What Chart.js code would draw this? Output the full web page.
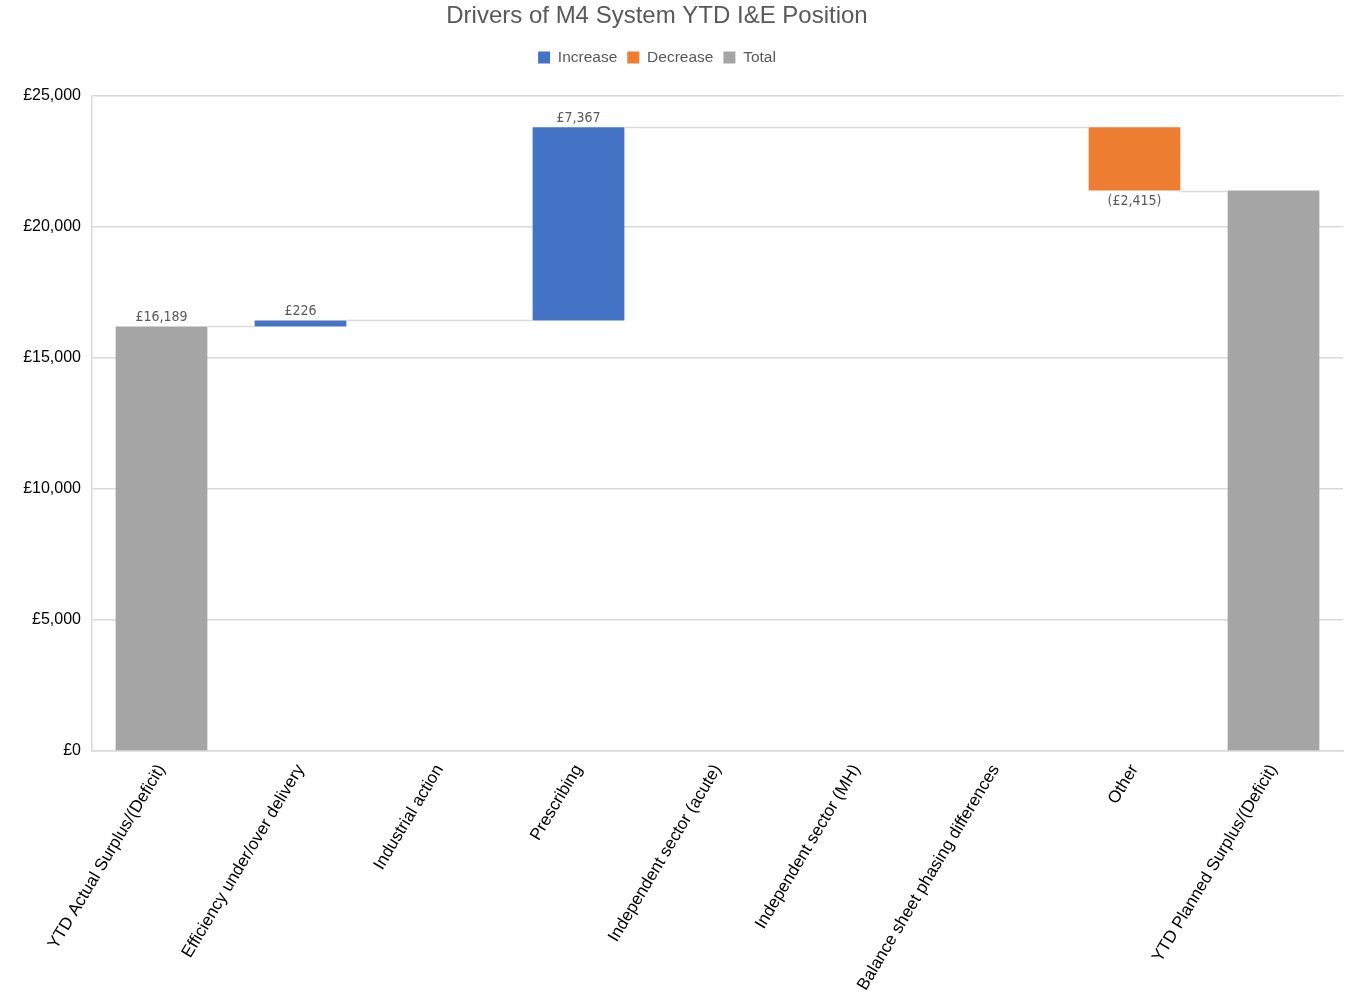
<!DOCTYPE html>
<html>
<head>
<meta charset="utf-8">
<title>Drivers of M4 System YTD I&amp;E Position</title>
<script src="https://cdn.jsdelivr.net/npm/chart.js@4.4.1/dist/chart.umd.min.js"></script>
<style>
  html, body { margin: 0; padding: 0; background: #fff; overflow: hidden; }
  /* canvas runs a little past the left edge so the title sits left of centre */
  #wrap { width: 1375px; height: 1000px; margin-left: -30px; }
</style>
</head>
<body>
<div id="wrap"><canvas id="ieChart"></canvas></div>
<script>
// Waterfall data (£000s)
const categories = [
  'YTD Actual Surplus/(Deficit)',
  'Efficiency under/over delivery',
  'Industrial action',
  'Prescribing',
  'Independent sector (acute)',
  'Independent sector (MH)',
  'Balance sheet phasing differences',
  'Other',
  'YTD Planned Surplus/(Deficit)'
];
const openingTotal = 16189;
const movements = [226, 0, 7367, 0, 0, 0, -2415];
const closingTotal = 21367;
const yTicks = [0, 5000, 10000, 15000, 20000, 25000];

const gbp = v => '£' + Math.abs(v).toLocaleString('en-GB');

// build floating bars: [from, to] for each category
const increaseBars = [null];
const decreaseBars = [null];
const totalBars = [[0, openingTotal]];
const levels = [openingTotal];
let running = openingTotal;
movements.forEach(m => {
  const from = running;
  running += m;
  increaseBars.push(m > 0 ? [from, running] : null);
  decreaseBars.push(m < 0 ? [running, from] : null);
  totalBars.push(null);
  levels.push(running);
});
increaseBars.push(null);
decreaseBars.push(null);
totalBars.push([0, closingTotal]);
levels[levels.length - 1] = closingTotal;
const barValues = [openingTotal, ...movements, closingTotal];

const BAR_PCT = 0.66;

// connector lines + value labels
const waterfallExtras = {
  id: 'waterfallExtras',
  afterDatasetsDraw(chart) {
    const { ctx, scales: { x, y } } = chart;
    const step = x.getPixelForValue(1) - x.getPixelForValue(0);
    const barHalf = step * BAR_PCT / 2;
    ctx.save();
    ctx.strokeStyle = '#d9d9d9';
    ctx.lineWidth = 1.5;
    // line from each non-zero bar to the next non-zero bar
    let prev = 0;
    for (let i = 1; i < barValues.length; i++) {
      if (barValues[i] === 0) continue;
      const yy = Math.round(y.getPixelForValue(levels[prev])) + 0.5;
      ctx.beginPath();
      ctx.moveTo(x.getPixelForValue(prev) + barHalf, yy);
      ctx.lineTo(x.getPixelForValue(i) - barHalf, yy);
      ctx.stroke();
      prev = i;
    }
    ctx.font = '14px "Liberation Sans Narrow", "DejaVu Sans Condensed", sans-serif';
    ctx.fillStyle = '#595959';
    ctx.textAlign = 'center';
    for (let i = 0; i < barValues.length; i++) {
      const v = barValues[i];
      if (v === 0) continue;
      const cx = x.getPixelForValue(i);
      if (v < 0) {
        ctx.textBaseline = 'top';
        ctx.fillText('(' + gbp(v) + ')', cx, y.getPixelForValue(levels[i]) + 4);
      } else {
        ctx.textBaseline = 'bottom';
        ctx.fillText(gbp(v), cx, y.getPixelForValue(levels[i]) - 2);
      }
    }
    ctx.restore();
  }
};

// extra space under the legend
const legendGap = {
  id: 'legendGap',
  beforeInit(chart) {
    const fit = chart.legend.fit;
    chart.legend.fit = function () {
      fit.call(this);
      this.height += 20;
    };
  }
};

const ieCtx = document.getElementById('ieChart');

new Chart(ieCtx, {
  type: 'bar',
  data: {
    labels: categories,
    datasets: [
      { label: 'Increase', data: increaseBars, backgroundColor: '#4472c4' },
      { label: 'Decrease', data: decreaseBars, backgroundColor: '#ed7d31' },
      { label: 'Total', data: totalBars, backgroundColor: '#a5a5a5' }
    ]
  },
  options: {
    responsive: true,
    maintainAspectRatio: false,
    animation: false,
    barPercentage: BAR_PCT,
    categoryPercentage: 1,
    layout: { padding: { left: 1, right: 2, top: 0, bottom: 0 } },
    plugins: {
      title: {
        display: true,
        text: 'Drivers of M4 System YTD I&E Position',
        color: '#595959',
        font: { family: 'Arial, "Liberation Sans", sans-serif', size: 24, weight: 'normal' },
        padding: { top: 2, bottom: 9 }
      },
      legend: {
        position: 'top',
        labels: {
          color: '#595959',
          font: { family: 'Arial, "Liberation Sans", sans-serif', size: 15.5 },
          boxWidth: 12,
          boxHeight: 12,
          padding: 10
        }
      },
      tooltip: { enabled: false }
    },
    scales: {
      x: {
        stacked: true,
        afterFit: axis => { axis.height = 249; },
        grid: { display: false, drawTicks: false },
        border: { color: '#d9d9d9', width: 1.5 },
        ticks: {
          color: '#000',
          font: { family: 'Arial, "Liberation Sans", sans-serif', size: 17 },
          maxRotation: 59,
          minRotation: 59,
          padding: 10,
          autoSkip: false
        }
      },
      y: {
        min: 0,
        max: 25000,
        afterBuildTicks: axis => { axis.ticks = yTicks.map(v => ({ value: v })); },
        afterFit: axis => { axis.width = 121; },
        grid: { color: '#d9d9d9', lineWidth: 1.5, drawTicks: false },
        border: { color: '#d9d9d9', width: 1.5 },
        ticks: {
          color: '#000',
          font: { family: 'Arial, "Liberation Sans", sans-serif', size: 16 },
          padding: 11,
          callback: v => gbp(v)
        }
      }
    }
  },
  plugins: [waterfallExtras, legendGap]
});
</script>
</body>
</html>
